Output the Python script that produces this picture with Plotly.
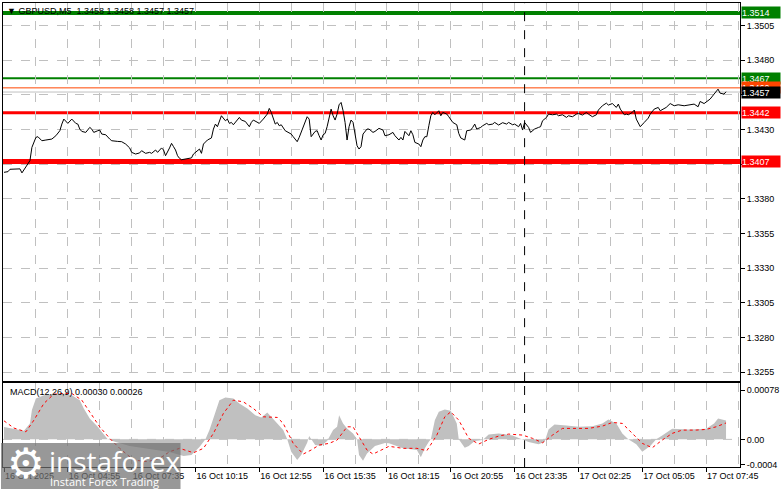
import plotly.graph_objects as go

# ---------------- data ----------------
price_bar = [0, 2, 3, 8, 9, 11, 13, 14, 16, 17, 19, 21, 24, 26, 28, 29, 30, 32, 33, 34,
             36, 37, 38, 39, 41, 43, 44, 45, 47, 48, 49, 51, 53, 54, 57, 59, 61, 63, 64, 66,
             68, 69, 71, 73, 74, 76, 77, 79, 80, 81, 83, 84, 85, 86, 87, 88, 89, 92, 94, 95,
             97, 98, 99, 100, 102, 104, 105, 106, 107, 108, 109, 111, 112, 113, 114, 115, 117, 118, 119, 121,
             123, 124, 125, 127, 128, 130, 132, 133, 134, 136, 137, 138, 139, 141, 142, 144, 145, 147, 148, 149,
             151, 152, 153, 154, 156, 157, 158, 159, 160, 161, 162, 163, 164, 165, 166, 167, 168, 169, 170, 171,
             172, 173, 174, 175, 176, 177, 178, 179, 180, 182, 183, 185, 186, 188, 190, 191, 193, 195, 196, 198,
             199, 200, 201, 203, 204, 205, 206, 208, 209, 210, 211, 212, 213, 214, 215, 216, 218, 219, 220, 222,
             223, 225, 227, 228, 229, 231, 232, 234, 235, 236, 237, 239, 240, 242, 243, 245, 246, 248, 250, 252,
             253, 255, 256, 258, 259, 260, 261, 263, 264, 266, 268, 269, 270, 272, 273, 275, 277, 278, 280, 282,
             283, 285, 287, 288, 290, 292, 293, 295, 297, 298, 300, 302, 303, 305, 307, 308, 309, 311, 312, 313,
             315, 316, 317, 319, 321, 323, 324, 326, 328, 329, 332, 334, 336, 338, 341, 343, 346, 348, 349, 351,
             353, 354, 356, 358, 359, 361, 362]
price_close = [1.33991, 1.33996, 1.34013, 1.34016, 1.33987, 1.34032, 1.34075, 1.34171, 1.34243, 1.34248,
               1.34219, 1.34224, 1.34231, 1.34255, 1.34291, 1.34339, 1.34375, 1.34344, 1.34363, 1.34375,
               1.34344, 1.34339, 1.34303, 1.34286, 1.34279, 1.34315, 1.34303, 1.34279, 1.34291, 1.34296,
               1.34267, 1.34262, 1.34231, 1.34219, 1.34214, 1.34212, 1.34195, 1.34167, 1.34135, 1.34123,
               1.34131, 1.34147, 1.34128, 1.34135, 1.34128, 1.34152, 1.34135, 1.34167, 1.34152, 1.34111,
               1.34167, 1.34200, 1.34176, 1.34152, 1.34111, 1.34092, 1.34082, 1.34087, 1.34095, 1.34123,
               1.34147, 1.34159, 1.34128, 1.34195, 1.34224, 1.34239, 1.34303, 1.34339, 1.34320, 1.34358,
               1.34399, 1.34363, 1.34375, 1.34344, 1.34351, 1.34334, 1.34375, 1.34387, 1.34368, 1.34358,
               1.34320, 1.34351, 1.34368, 1.34351, 1.34344, 1.34375, 1.34411, 1.34452, 1.34423, 1.34339,
               1.34351, 1.34327, 1.34334, 1.34291, 1.34284, 1.34267, 1.34248, 1.34212, 1.34243, 1.34279,
               1.34351, 1.34392, 1.34375, 1.34248, 1.34286, 1.34291, 1.34255, 1.34224, 1.34262, 1.34272,
               1.34320, 1.34375, 1.34447, 1.34399, 1.34368, 1.34411, 1.34478, 1.34495, 1.34435, 1.34351,
               1.34224, 1.34320, 1.34368, 1.34351, 1.34279, 1.34183, 1.34159, 1.34176, 1.34267, 1.34303,
               1.34303, 1.34279, 1.34286, 1.34308, 1.34296, 1.34255, 1.34262, 1.34279, 1.34255, 1.34224,
               1.34243, 1.34224, 1.34286, 1.34255, 1.34291, 1.34262, 1.34207, 1.34195, 1.34176, 1.34224,
               1.34248, 1.34248, 1.34327, 1.34399, 1.34423, 1.34406, 1.34435, 1.34399, 1.34423, 1.34411,
               1.34392, 1.34351, 1.34334, 1.34272, 1.34239, 1.34224, 1.34291, 1.34296, 1.34315, 1.34339,
               1.34303, 1.34315, 1.34327, 1.34344, 1.34334, 1.34339, 1.34351, 1.34332, 1.34349, 1.34339,
               1.34351, 1.34334, 1.34339, 1.34320, 1.34344, 1.34296, 1.34351, 1.34315, 1.34279, 1.34303,
               1.34315, 1.34320, 1.34363, 1.34387, 1.34411, 1.34406, 1.34411, 1.34399, 1.34406, 1.34387,
               1.34399, 1.34392, 1.34411, 1.34416, 1.34404, 1.34423, 1.34411, 1.34392, 1.34406, 1.34440,
               1.34471, 1.34490, 1.34476, 1.34487, 1.34459, 1.34483, 1.34447, 1.34406, 1.34411, 1.34406,
               1.34423, 1.34440, 1.34375, 1.34320, 1.34351, 1.34382, 1.34411, 1.34447, 1.34459, 1.34435,
               1.34459, 1.34487, 1.34471, 1.34478, 1.34471, 1.34476, 1.34483, 1.34464, 1.34502, 1.34487,
               1.34512, 1.34519, 1.34555, 1.34591, 1.34562, 1.34555, 1.34572]

hist_bar = [0, 5, 10, 13, 14, 16, 20, 25, 30, 34, 38, 40, 43, 47, 49, 52, 56, 63, 73, 83,
            90, 94, 98, 101, 103, 106, 108, 111, 115, 118, 122, 126, 129, 132, 134, 137, 140, 142, 144, 147,
            149, 152, 153, 156, 159, 162, 165, 167, 168, 170, 172, 175, 177, 178, 180, 182, 186, 191, 193, 200,
            207, 209, 211, 213, 214, 216, 218, 221, 224, 227, 228, 231, 233, 236, 240, 243, 248, 255, 260, 263,
            268, 271, 273, 276, 282, 288, 295, 300, 303, 307, 310, 313, 317, 320, 324, 327, 330, 335, 343, 352,
            356, 358, 362]
macd_hist = [0.000195, 0.000163, 0.000136, 0.000253, 0.000464, 0.000649, 0.000701, 0.000717, 0.000728, 0.000701,
             0.000622, 0.000490, 0.000332, 0.000199, 0.000120, 0.0, -0.000043, -0.000106, -0.000153, -0.000201,
             -0.000264, -0.000248, -0.000122, 0.0, 0.000147, 0.000437, 0.000622, 0.000665, 0.000649, 0.000570,
             0.000490, 0.000384, 0.000348, 0.000427, 0.000358, 0.000253, 0.000147, 0.0, -0.000196, -0.000328,
             -0.000248, -0.000054, 0.000052, -0.000090, -0.000106, -0.000027, 0.000147, 0.000199, 0.000384, 0.000253,
             0.000174, 0.000095, 0.0, -0.000248, -0.000339, -0.000222, -0.000106, -0.000059, -0.000063, -0.000142,
             -0.000169, -0.000285, -0.000142, -0.000038, 0.0, 0.000305, 0.000437, 0.000475, 0.000453, 0.000253,
             0.0, -0.000133, -0.000106, -0.000027, -0.000011, 0.000079, 0.000095, 0.000063, 0.0, -0.000043,
             -0.000079, -0.000043, 0.000158, 0.000237, 0.000221, 0.000199, 0.000210, 0.000253, 0.000316, 0.000253,
             0.000095, 0.0, -0.000079, -0.000196, -0.000106, 0.0, 0.000063, 0.000168, 0.000158, 0.000168,
             0.000253, 0.000332, 0.000300]

signal_bar = [0, 5, 11, 15, 20, 25, 30, 34, 39, 43, 48, 53, 58, 65, 72, 78, 83, 88, 95, 100,
              105, 110, 115, 120, 125, 130, 137, 140, 145, 150, 154, 158, 163, 167, 172, 175, 178, 182, 185, 190,
              193, 200, 207, 212, 217, 221, 224, 228, 233, 238, 243, 248, 253, 260, 265, 270, 275, 280, 287, 293,
              300, 305, 310, 315, 320, 325, 330, 335, 340, 347, 352, 357, 362]
signal_vals = [0.000294, 0.000179, 0.000120, 0.000305, 0.000570, 0.000717, 0.000728, 0.000728, 0.000622, 0.000437,
               0.000199, 0.000016, -0.000142, -0.000328, -0.000354, -0.000301, -0.000196, -0.000142, -0.000212, -0.000142,
               0.000095, 0.000411, 0.000622, 0.000595, 0.000490, 0.000358, 0.000348, 0.000253, -0.000063, -0.000233,
               -0.000169, -0.000090, -0.000063, -0.000011, 0.000199, 0.000199, 0.000041, -0.000169, -0.000233, -0.000160,
               -0.000110, -0.000142, -0.000142, -0.000180, 0.000068, 0.000358, 0.000437, 0.000305, 0.000016, -0.000074,
               0.0, 0.000052, 0.000084, 0.000068, 0.000016, -0.000054, 0.000068, 0.000174, 0.000174, 0.000174,
               0.000210, 0.000269, 0.000253, 0.000095, -0.000063, -0.000133, -0.000011, 0.000095, 0.000147, 0.000147,
               0.000158, 0.000199, 0.000260]

time_tick_bars = [0, 32, 64, 96, 128, 160, 192, 224, 256, 288, 320, 352]
time_tick_labels = ["16 Oct 2025", "16 Oct 04:55", "16 Oct 07:35", "16 Oct 10:15", "16 Oct 12:55",
                    "16 Oct 15:35", "16 Oct 18:15", "16 Oct 20:55", "16 Oct 23:35", "17 Oct 02:25",
                    "17 Oct 05:05", "17 Oct 07:45"]
day_separator_bar = 261

price_ticks = [1.3255, 1.3280, 1.3305, 1.3330, 1.3355, 1.3380, 1.3405, 1.3430, 1.3455, 1.3480, 1.3505]
macd_ticks = [-0.0004, 0.0, 0.00078]
macd_tick_labels = ["-0.0004", "0.00", "0.00078"]

green_levels = [1.3514, 1.3467]
red_levels = [1.3442, 1.3407]
ask_price = 1.3460
bid_price = 1.3457
last_ohlc = [1.3458, 1.3458, 1.3457, 1.3457]
symbol = "GBPUSD,M5"

# ---------------- geometry / style ----------------
W, H = 781, 489
ML, MR, MT, MB = 2, 40, 2, 22
PW, PH = W - ML - MR, H - MT - MB
MAIN_BOTTOM_PX, MACD_TOP_PX = 381, 383
BOTTOM_PX = H - MB

def px_x(px):
    return (px - ML) / PW

def px_y(py):
    return (BOTTOM_PX - py) / PH

FONT = "Liberation Sans"
GRID = "#c0c0c0"
GREEN = "#008000"
RED = "#ff0000"
ORANGE = "#ff4500"

fig = go.Figure()

fig.add_trace(go.Scatter(x=price_bar, y=price_close, mode="lines",
                         line=dict(color="black", width=1), xaxis="x", yaxis="y",
                         hoverinfo="skip", showlegend=False))
fig.add_trace(go.Scatter(x=hist_bar, y=macd_hist, mode="lines", fill="tozeroy",
                         fillcolor="#c0c0c0", line=dict(color="rgba(0,0,0,0)", width=0),
                         xaxis="x2", yaxis="y2", hoverinfo="skip", showlegend=False))
fig.add_trace(go.Scatter(x=signal_bar, y=signal_vals, mode="lines",
                         line=dict(color=RED, width=1, dash="dot"),
                         xaxis="x2", yaxis="y2", hoverinfo="skip", showlegend=False))

shapes = []
level_specs = [(green_levels[0], GREEN, 4), (green_levels[1], GREEN, 2),
               (ask_price, ORANGE, 1), (bid_price, "#c0c0c0", 1),
               (red_levels[0], RED, 3), (red_levels[1], RED, 5)]
for val, col, w in level_specs:
    shapes.append(dict(type="line", xref="x domain", yref="y", x0=0, x1=1, y0=val, y1=val,
                       line=dict(color=col, width=w), layer="below"))
shapes.append(dict(type="line", xref="x2 domain", yref="y2", x0=0, x1=1, y0=0, y1=0,
                   line=dict(color=GRID, width=1, dash="dash"), layer="below"))
for xr, yr in (("x", "y domain"), ("x2", "y2 domain")):
    shapes.append(dict(type="line", xref=xr, yref=yr, x0=day_separator_bar, x1=day_separator_bar,
                       y0=0, y1=1, line=dict(color="black", width=1, dash="dash"), layer="below"))
shapes.append(dict(type="rect", xref="paper", yref="paper", x0=px_x(0), x1=px_x(180),
                   y0=px_y(489), y1=px_y(443), fillcolor="rgba(112,112,112,0.72)",
                   line=dict(width=0), layer="above"))

annotations = []
box_specs = [(green_levels[0], GREEN), (green_levels[1], GREEN), (ask_price, ORANGE),
             (bid_price, "black"), (red_levels[0], RED), (red_levels[1], RED)]
for val, col in box_specs:
    annotations.append(dict(x=1, xref="paper", xanchor="left", xshift=1, y=val, yref="y",
                            yanchor="middle", text=f"{val:.4f}", showarrow=False, bgcolor=col,
                            font=dict(color="white", size=9, family=FONT), width=38, height=11,
                            align="left", borderpad=0))
annotations.append(dict(x=px_x(4), y=px_y(3), xref="paper", yref="paper", xanchor="left", yanchor="top",
                        text="▼ " + symbol + "  " + " ".join(f"{v:.4f}" for v in last_ohlc),
                        showarrow=False, font=dict(color="black", size=9, family=FONT)))
annotations.append(dict(x=px_x(7), y=px_y(392), xref="paper", yref="paper", xanchor="left", yanchor="middle",
                        text=f"MACD(12,26,9) {macd_hist[-1]:.5f} {signal_vals[-1]:.5f}",
                        showarrow=False, font=dict(color="black", size=9, family=FONT)))
annotations.append(dict(x=px_x(25), y=px_y(463), xref="paper", yref="paper", xanchor="center", yanchor="middle",
                        text="⚙", showarrow=False, font=dict(color="white", size=42, family="DejaVu Sans")))
annotations.append(dict(x=px_x(46), y=px_y(461), xref="paper", yref="paper", xanchor="left", yanchor="middle",
                        text="instaforex", showarrow=False, font=dict(color="white", size=28, family="Open Sans")))
annotations.append(dict(x=px_x(47), y=px_y(482), xref="paper", yref="paper", xanchor="left", yanchor="middle",
                        text="Instant Forex Trading", showarrow=False, font=dict(color="white", size=11, family="Open Sans")))

main_dom = [(BOTTOM_PX - MAIN_BOTTOM_PX) / PH, 1]
macd_dom = [0, (BOTTOM_PX - MACD_TOP_PX) / PH]

xcommon = dict(range=[-0.5, 369], showline=True, linecolor="black", linewidth=1, mirror=True,
               showgrid=True, gridcolor=GRID, griddash="dash", gridwidth=1, zeroline=False)

fig.update_layout(
    width=W, height=H, margin=dict(l=ML, r=MR, t=MT, b=MB),
    paper_bgcolor="white", plot_bgcolor="white", showlegend=False, hovermode=False,
    font=dict(family=FONT, size=9, color="black"),
    xaxis=dict(anchor="y", tickmode="linear", tick0=0, dtick=16, showticklabels=False, ticks="", **xcommon),
    xaxis2=dict(anchor="y2", matches="x", tickmode="array", tickvals=time_tick_bars, ticktext=time_tick_labels,
                ticks="outside", ticklen=4, tickcolor="black", ticklabelposition="outside right",
                tickfont=dict(size=9, family=FONT, color="black"),
                minor=dict(tickmode="linear", tick0=0, dtick=16, showgrid=True, gridcolor=GRID,
                           griddash="dash", ticks=""),
                **xcommon),
    yaxis=dict(domain=main_dom, anchor="x", side="right", range=[1.324853, 1.352119],
               tickmode="array", tickvals=price_ticks, ticktext=[f"{v:.4f}" for v in price_ticks],
               showline=True, linecolor="black", mirror=True, ticks="outside", ticklen=4, tickcolor="black",
               showgrid=True, gridcolor=GRID, griddash="dash", zeroline=False,
               tickfont=dict(size=9, family=FONT, color="black")),
    yaxis2=dict(domain=macd_dom, anchor="x2", side="right", range=[-0.000438, 0.000891],
                tickmode="array", tickvals=macd_ticks, ticktext=macd_tick_labels,
                showline=True, linecolor="black", mirror=True, ticks="outside", ticklen=4, tickcolor="black",
                showgrid=False, zeroline=False, tickfont=dict(size=9, family=FONT, color="black")),
    shapes=shapes, annotations=annotations,
)

fig.write_html("out.html", config={"displayModeBar": False, "staticPlot": True},
               post_script="document.body.style.margin='0px';document.body.style.overflow='hidden';")
